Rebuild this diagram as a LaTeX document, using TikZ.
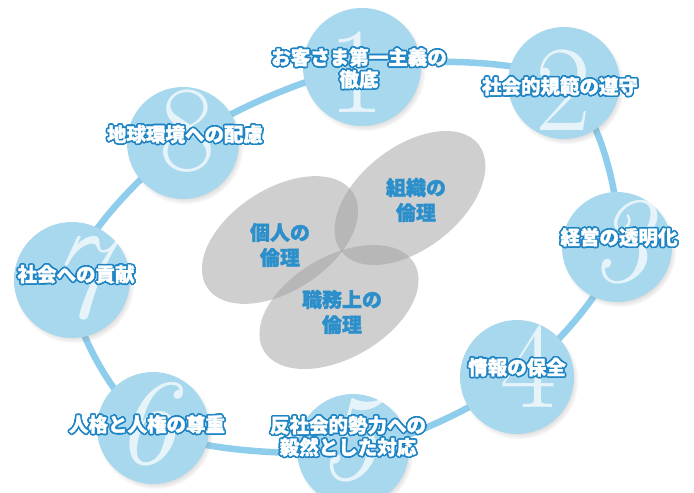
\documentclass[tikz,border=0pt]{standalone}
\usepackage{fontspec}
\usepackage{contour}
\usetikzlibrary{shapes.geometric,shadows,fadings}
\newfontfamily\jp[BoldFeatures={FakeBold=1.5}]{Noto Sans CJK JP}
\definecolor{ringc}{HTML}{8ECDEB}
\definecolor{circc}{HTML}{A8D8EE}
\definecolor{outl}{HTML}{1E84C4}
\definecolor{ethc}{HTML}{2B8FCB}
\definecolor{ellc}{HTML}{A0A0A0}
\contourlength{1.6pt}
\begin{document}
\begin{tikzpicture}[x=1pt,y=-1pt,
  ring/.style={draw=ringc, line width=6.5pt},
  bubble/.style={circle, fill=circc, inner sep=0pt, minimum size=#1,
    circular drop shadow={shadow xshift=2pt, shadow yshift=-3pt, opacity=0.35, shadow scale=1.04}},
  num/.style={font=\fontsize{122}{122}\selectfont, text=white, text opacity=0.72, inner sep=0pt},
  lab/.style={font=\jp\bfseries\fontsize{19.5}{22}\selectfont, text=white, align=center, inner sep=0pt},
  ell/.style={ellipse, fill=ellc, fill opacity=0.5, inner sep=0pt, minimum width=174pt, minimum height=102pt},
  eth/.style={font=\jp\bfseries\fontsize{20}{25}\selectfont, text=ethc, align=center, inner sep=0pt}
]
\fill[white] (0,0) rectangle (694,493);
\useasboundingbox (0,0) rectangle (694,493);
% ring anchor points
\coordinate (p1) at (362,67);
\coordinate (p2) at (564,83);
\coordinate (p3) at (617,247);
\coordinate (p4) at (517,377);
\coordinate (p5) at (353,450);
\coordinate (p6) at (153,428);
\coordinate (p7) at (72,280);
\coordinate (p8) at (183,143);
\draw[ring] plot[smooth cycle] coordinates {(p1) (p2) (p3) (p4) (p5) (p6) (p7) (p8)};
% circles
\node[bubble=118pt] (c1) at (p1) {};
\node[bubble=112pt] (c2) at (p2) {};
\node[bubble=110pt] (c3) at (p3) {};
\node[bubble=114pt] (c4) at (p4) {};
\node[bubble=112pt] (c5) at (p5) {};
\node[bubble=112pt] (c6) at (p6) {};
\node[bubble=116pt] (c7) at (p7) {};
\node[bubble=112pt] (c8) at (p8) {};
% numerals
\node[num] (n1) at (356,72) {1};
\node[num] (n2) at (563,90) {2};
\node[num] (n3) at (621,242) {\itshape 3};
\node[num] (n4) at (528,367) {4};
\node[num] (n5) at (348,440) {\itshape 5};
\node[num] (n6) at (146,424) {\itshape 6};
\node[num] (n7) at (78,278) {\itshape 7};
\node[num] (n8) at (187,131) {8};
% labels
\node[lab] (t1) at (359,69) {\contour{outl}{お客さま第一主義の}\\\contour{outl}{徹底}};
\node[lab] (t2) at (560,87) {\contour{outl}{社会的規範の遵守}};
\node[lab] (t3) at (619,238) {\contour{outl}{経営の透明化}};
\node[lab] (t4) at (517,368) {\contour{outl}{情報の保全}};
\node[lab] (t5) at (348,437) {\contour{outl}{反社会的勢力への}\\\contour{outl}{毅然とした対応}};
\node[lab] (t6) at (147,425) {\contour{outl}{人格と人権の尊重}};
\node[lab] (t7) at (76,275) {\contour{outl}{社会への貢献}};
\node[lab] (t8) at (185,135) {\contour{outl}{地球環境への配慮}};
% ethics ellipses
\node[ell, rotate=33] (e1) at (280,240) {};
\node[ell, rotate=38] (e2) at (410,198) {};
\node[ell, rotate=30] (e3) at (339,307) {};
\node[eth] (x1) at (280,245) {個人の\\倫理};
\node[eth] (x2) at (416,200) {組織の\\倫理};
\node[eth] (x3) at (342,312) {職務上の\\倫理};
\end{tikzpicture}
\end{document}
